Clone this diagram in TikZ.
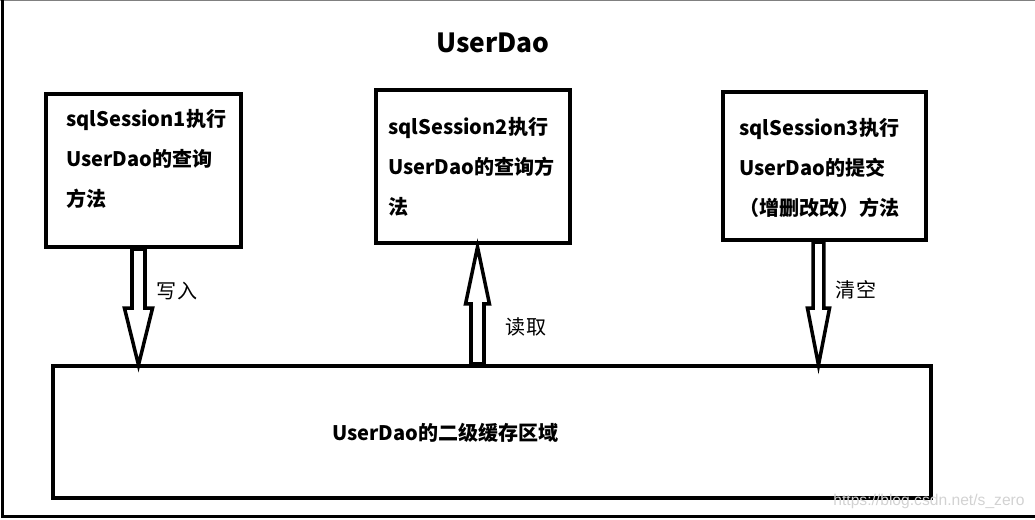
\documentclass[tikz,border=0pt]{standalone}
\usepackage{fontspec}
\setmainfont{Noto Sans CJK SC}
\newfontfamily\wmfont{Liberation Sans}
\usetikzlibrary{calc}

\tikzset{
  sessbox/.style={draw, line width=2.3pt, inner sep=0pt},
  boxtext/.style={font=\bfseries\fontsize{11.4}{22.8}\selectfont, align=left, inner sep=0pt, anchor=west},
  lbl/.style={font=\fontsize{11.4}{13}\selectfont, inner sep=0pt},
  hollow/.style={draw, fill=white, line width=2pt, line join=miter},
}

% block arrow: tail, tip, half shaft, half head
\newcommand{\hollowarrow}[4]{%
  \coordinate (hb) at ($(#2)!32.4pt!(#1)$);
  \draw[hollow] ($(#1)!#3!90:(#2)$) -- ($(hb)!#3!90:(#2)$) -- ($(hb)!#4!90:(#2)$)
    -- (#2) -- ($(hb)!#4!-90:(#2)$) -- ($(hb)!#3!-90:(#2)$) -- ($(#1)!#3!-90:(#2)$) -- cycle;
}

\begin{document}
\begin{tikzpicture}[x=0.02cm, y=-0.02cm]
\useasboundingbox (0,0) rectangle (1035,520);

% frame
\draw[gray, line width=0.6pt] (0,0.3) -- (1035,0.3);
\draw[line width=1.7pt] (2.5,0) -- (2.5,516.5) -- (1035,516.5);

\node[font=\bfseries\fontsize{15}{18}\selectfont] (title) at (493,43) {UserDao};

% sessions
\node[sessbox, minimum width=3.9cm, minimum height=3.06cm] (s1) at (143.5,170.5) {};
\node[sessbox, minimum width=3.88cm, minimum height=3.06cm] (s2) at (473,166.5) {};
\node[sessbox, minimum width=4.06cm, minimum height=2.96cm] (s3) at (824.5,166) {};

\node[boxtext] (t1) at (66,159) {sqlSession1执行\\UserDao的查询\\方法};
\node[boxtext] (t2) at (388,167) {sqlSession2执行\\UserDao的查询方\\法};
\node[boxtext] (t3) at (739,168) {sqlSession3执行\\UserDao的提交\\（增删改改）方法};

% cache
\node[sessbox, minimum width=17.56cm, minimum height=2.64cm] (cache) at (492,432) {};
\node[font=\bfseries\fontsize{11.4}{13}\selectfont, inner sep=0pt] (ct) at (445.5,433) {UserDao的二级缓存区域};

% arrows
\coordinate (a1tail) at ($(s1.south)+(-5,0)$);
\coordinate (a1tip) at ($(a1tail |- cache.north)+(0,1)$);
\hollowarrow{a1tail}{a1tip}{3.7pt}{8pt}
\node[lbl] (w) at (177,291) {写入};

\coordinate (a2tip) at ($(s2.south)+(4.5,2)$);
\coordinate (a2tail) at (a2tip |- cache.north);
\hollowarrow{a2tail}{a2tip}{3.7pt}{6.8pt}
\node[lbl] (r) at (526,327) {读取};

\coordinate (a3tail) at ($(s3.south)+(-6,0)$);
\coordinate (a3tip) at ($(a3tail |- cache.north)+(0,1)$);
\hollowarrow{a3tail}{a3tip}{3.1pt}{6.3pt}
\node[lbl] (c) at (856,290) {清空};

\node[font=\wmfont\fontsize{8.9}{10}\selectfont, text=gray!35, inner sep=0pt] (wm) at (929,501) {https://blog.csdn.net/s\_zero};
\end{tikzpicture}
\end{document}
